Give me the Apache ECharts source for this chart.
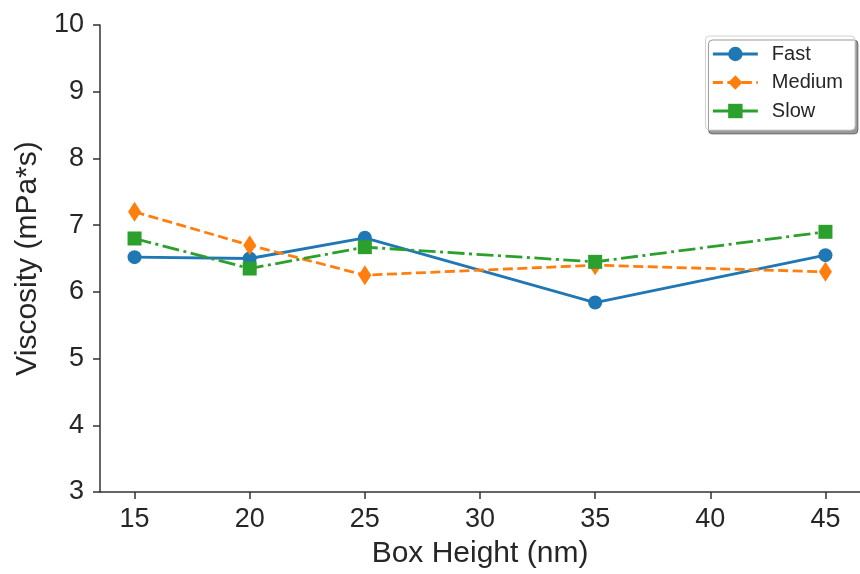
<!DOCTYPE html>
<html>
<head>
<meta charset="UTF-8">
<title>Viscosity</title>
<style>
  html, body { margin: 0; padding: 0; background: #fff; }
  #main { width: 860px; height: 574px; }
</style>
</head>
<body>
<div id="main"></div>
<script src="https://cdn.jsdelivr.net/npm/echarts@6/dist/echarts.min.js"></script>
<script>
// box heights (nm)
var boxHeight = [15, 20, 25, 35, 45];
// viscosity values (mPa*s)
var fastVals = [6.52, 6.50, 6.81, 5.84, 6.55];
var mediumVals = [7.20, 6.70, 6.25, 6.40, 6.30];
var slowVals = [6.80, 6.35, 6.67, 6.45, 6.90];
var xTicks = [15, 20, 25, 30, 35, 40, 45];

function pairs(vals) {
  return boxHeight.map(function (x, i) { return [x, vals[i]]; });
}

var font = 'Liberation Sans, Arial, sans-serif';
var axisColor = '#333';
var textColor = '#262626';

var myChart = echarts.init(document.getElementById('main'));
var option = {
  animation: false,
  grid: { left: 100, right: 0, top: 25, bottom: 82 },
  legend: {
    right: 5,
    top: 36,
    orient: 'vertical',
    itemWidth: 45,
    itemHeight: 18,
    itemGap: 8.5,
    padding: [8, 12, 9, 6],
    backgroundColor: '#fff',
    borderColor: '#d0d0d0',
    borderWidth: 1,
    borderRadius: 4,
    shadowColor: 'rgba(0,0,0,0.4)',
    shadowBlur: 0,
    shadowOffsetX: 3,
    shadowOffsetY: 4,
    lineStyle: { width: 2.8 },
    textStyle: { fontFamily: font, fontSize: 20, color: textColor, padding: [0, 0, 0, 9] },
    data: ['Fast', 'Medium', 'Slow']
  },
  xAxis: {
    type: 'value',
    min: 13.5,
    max: 46.5,
    interval: 5,
    name: 'Box Height (nm)',
    nameLocation: 'middle',
    nameGap: 47,
    nameTextStyle: { fontFamily: font, fontSize: 30, color: textColor },
    axisLine: { show: true, onZero: false, lineStyle: { color: axisColor, width: 1.5 } },
    axisTick: { show: true, length: 7, lineStyle: { color: axisColor, width: 1.5 }, customValues: xTicks },
    axisLabel: { fontFamily: font, fontSize: 27, color: textColor, margin: 14, customValues: xTicks },
    splitLine: { show: false }
  },
  yAxis: {
    type: 'value',
    min: 3,
    max: 10,
    interval: 1,
    name: 'Viscosity (mPa*s)',
    nameLocation: 'middle',
    nameGap: 50,
    nameTextStyle: { fontFamily: font, fontSize: 30, color: textColor },
    axisLine: { show: true, onZero: false, lineStyle: { color: axisColor, width: 1.5 } },
    axisTick: { show: true, length: 7, lineStyle: { color: axisColor, width: 1.5 } },
    axisLabel: { fontFamily: font, fontSize: 27, color: textColor, margin: 16 },
    splitLine: { show: false }
  },
  series: [{
    name: 'Fast',
    type: 'line',
    data: pairs(fastVals),
    symbol: 'circle',
    symbolSize: 14,
    itemStyle: { color: '#1f77b4' },
    lineStyle: { color: '#1f77b4', width: 2.8 },
    z: 2
  }, {
    name: 'Medium',
    type: 'line',
    data: pairs(mediumVals),
    symbol: 'diamond',
    symbolSize: [13, 20],
    itemStyle: { color: '#ff7f0e' },
    lineStyle: { color: '#ff7f0e', width: 2.8, type: [10, 4.5] },
    z: 3
  }, {
    name: 'Slow',
    type: 'line',
    data: pairs(slowVals),
    symbol: 'rect',
    symbolSize: 14,
    itemStyle: { color: '#2ca02c' },
    lineStyle: { color: '#2ca02c', width: 2.8, type: [17, 4.5, 3, 4.5] },
    z: 4
  }]
};
myChart.setOption(option);
</script>
</body>
</html>
